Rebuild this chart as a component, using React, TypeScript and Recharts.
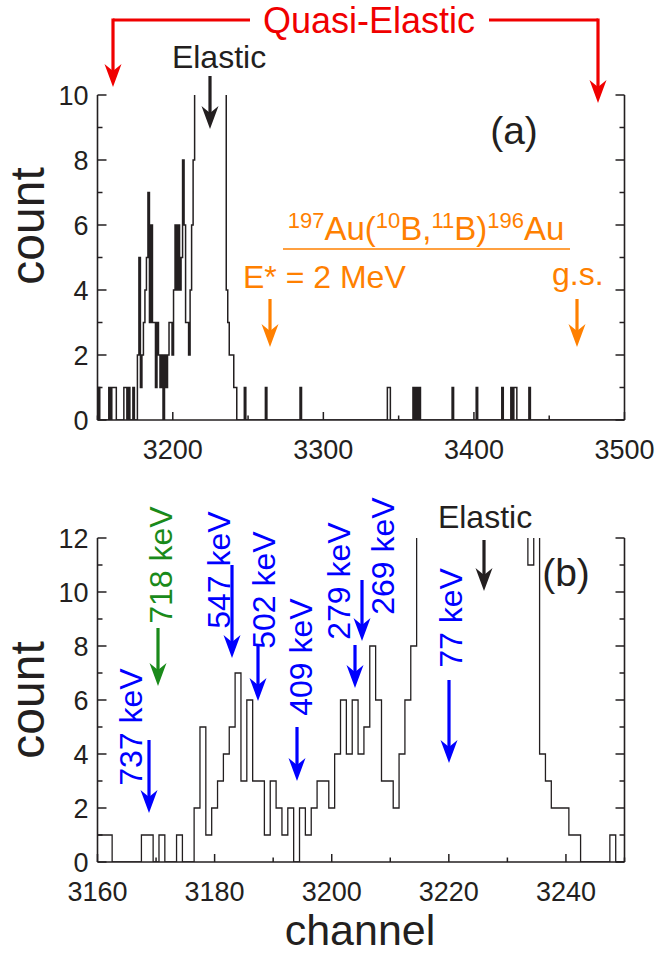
import React from "react";
import { LineChart, Line, XAxis, YAxis } from "recharts";

// spectrum (b), one count per channel starting at 3160
const startB = 3160;
const countsB = [
  1, 1, 1, 0, 0, 0, 0, 0, 1, 1, // 3160-3169
  0, 1, 0, 0, 1, 0, 0, 2, 5, 1, // 3170-3179
  2, 3, 4, 5, 7, 3, 6, 3, 3, 1, // 3180-3189
  3, 2, 1, 2, 0, 2, 1, 2, 3, 3, // 3190-3199
  2, 4, 6, 4, 6, 4, 5, 8, 6, 3, // 3200-3209
  3, 2, 4, 6, 8, 14, 19, 25, 31, 37, // 3210-3219
  42, 46, 49, 51, 52, 51, 49, 45, 40, 34, // 3220-3229
  28, 22, 17, 14, 11, 13, 4, 3, 2, 2, // 3230-3239
  2, 1, 1, 0, 0, 0, 0, 0, 1, 0, // 3240-3249
  0, // 3250
];
// single counts seen in (a) outside the range of (b)
const extraHitsA = [3151, 3158, 3262, 3285, 3343, 3344, 3360, 3362, 3364, 3386, 3402, 3419, 3425, 3427, 3428, 3437];

const rangeA = [3150, 3500];
const rangeB = [3160, 3250];
const xTicksA = [3150, 3200, 3250, 3300, 3350, 3400, 3450, 3500];
const xLabelsA = [3200, 3300, 3400, 3500];
const xTicksB = [3160, 3170, 3180, 3190, 3200, 3210, 3220, 3230, 3240, 3250];
const xLabelsB = [3160, 3180, 3200, 3220, 3240];
const yTicksA = [0, 1, 2, 3, 4, 5, 6, 7, 8, 9, 10];
const yLabelsA = [0, 2, 4, 6, 8, 10];
const yTicksB = [0, 1, 2, 3, 4, 5, 6, 7, 8, 9, 10, 11, 12];
const yLabelsB = [0, 2, 4, 6, 8, 10, 12];

const FONT = "'Liberation Sans', Arial, Helvetica, sans-serif";
const INK = "#231f20";
const BLUE = "#0000ff";
const GREEN = "#1a8a1a";
const ORANGE = "#ff8000";
const RED = "#f00000";

function countAt(ch: number) {
  const i = ch - startB;
  if (i >= 0 && i < countsB.length) return countsB[i];
  return extraHitsA.includes(ch) ? 1 : 0;
}

// histogram bins are centred on the channel
function stepData(lo: number, hi: number) {
  const pts = [];
  for (let ch = lo; ch <= hi; ch++) pts.push({ x: ch - 0.5, y: countAt(ch) });
  pts.push({ x: hi + 0.5, y: countAt(hi) });
  return pts;
}

const dataA = stepData(rangeA[0], rangeA[1]);
const dataB = stepData(rangeB[0], rangeB[1]);

const bottomTick = (labels: number[]) => (p: any) => {
  const major = labels.includes(p.payload.value);
  return (
    <g>
      <line x1={p.x} x2={p.x} y1={p.y} y2={p.y - (major ? 8 : 4.5)} stroke={INK} strokeWidth={1.5} />
      {major && (
        <text x={p.x} y={p.y + 39} textAnchor="middle" fontSize={27} fill={INK} fontFamily={FONT}>
          {p.payload.value}
        </text>
      )}
    </g>
  );
};

const leftTick = (labels: number[]) => (p: any) => {
  const major = labels.includes(p.payload.value);
  return (
    <g>
      <line x1={p.x} x2={p.x + (major ? 9 : 5)} y1={p.y} y2={p.y} stroke={INK} strokeWidth={1.5} />
      {major && (
        <text x={p.x - 9} y={p.y} dy="0.36em" textAnchor="end" fontSize={27} fill={INK} fontFamily={FONT}>
          {p.payload.value}
        </text>
      )}
    </g>
  );
};

const rightTick = (labels: number[]) => (p: any) => {
  const major = labels.includes(p.payload.value);
  return <line x1={p.x} x2={p.x - (major ? 9 : 5)} y1={p.y} y2={p.y} stroke={INK} strokeWidth={1.5} />;
};

function Panel(props: {
  data: { x: number; y: number }[];
  range: number[];
  xTicks: number[];
  xLabels: number[];
  yTicks: number[];
  yLabels: number[];
  height: number;
  margin: { top: number; right: number; bottom: number; left: number };
  lineWidth: number;
}) {
  const yMax = props.yTicks[props.yTicks.length - 1];
  const axisLine = { stroke: INK, strokeWidth: 1.6 };
  return (
    <LineChart width={658} height={props.height} data={props.data} margin={props.margin}>
      <XAxis
        dataKey="x"
        type="number"
        domain={props.range}
        allowDataOverflow
        ticks={props.xTicks}
        interval={0}
        tickSize={0}
        tickMargin={0}
        height={40}
        axisLine={axisLine}
        tick={bottomTick(props.xLabels)}
      />
      <YAxis
        yAxisId="left"
        type="number"
        domain={[0, yMax]}
        allowDataOverflow
        ticks={props.yTicks}
        interval={0}
        tickSize={0}
        tickMargin={0}
        width={60}
        axisLine={axisLine}
        tick={leftTick(props.yLabels)}
      />
      <YAxis
        yAxisId="right"
        orientation="right"
        type="number"
        domain={[0, yMax]}
        allowDataOverflow
        ticks={props.yTicks}
        interval={0}
        tickSize={0}
        tickMargin={0}
        width={10}
        axisLine={axisLine}
        tick={rightTick(props.yLabels)}
      />
      <Line
        yAxisId="left"
        type="stepAfter"
        dataKey="y"
        stroke={INK}
        strokeWidth={props.lineWidth}
        dot={false}
        isAnimationActive={false}
      />
    </LineChart>
  );
}

function Arrow({ x, y1, y2, color }: { x: number; y1: number; y2: number; color: string }) {
  const head = 23;
  return (
    <g>
      <line x1={x} x2={x} y1={y1} y2={y2 - head + 7} stroke={color} strokeWidth={3.2} />
      <polygon points={`${x},${y2} ${x - 8.5},${y2 - head} ${x},${y2 - head + 7} ${x + 8.5},${y2 - head}`} fill={color} />
    </g>
  );
}

function VLabel({ x, y, text, color }: { x: number; y: number; text: string; color: string }) {
  return (
    <text
      x={x}
      y={y}
      transform={`rotate(-90 ${x} ${y})`}
      textAnchor="middle"
      dy="0.36em"
      fontSize={32}
      fill={color}
      fontFamily={FONT}
    >
      {text}
    </text>
  );
}

function Annotations() {
  const sup = { fontSize: 22 };
  return (
    <svg width={658} height={959} style={{ position: "absolute", left: 0, top: 0 }}>
      {/* panel (a) */}
      <text x={369} y={33} textAnchor="middle" fontSize={36} fill={RED} fontFamily={FONT}>Quasi-Elastic</text>
      <line x1={113} x2={250} y1={20} y2={20} stroke={RED} strokeWidth={3} />
      <line x1={489} x2={598} y1={20} y2={20} stroke={RED} strokeWidth={3} />
      <Arrow x={113} y1={18.5} y2={87} color={RED} />
      <Arrow x={598} y1={18.5} y2={103} color={RED} />
      <text x={219} y={68} textAnchor="middle" fontSize={32} fill={INK} fontFamily={FONT}>Elastic</text>
      <Arrow x={210} y1={76} y2={129} color={INK} />
      <text x={514} y={144} textAnchor="middle" fontSize={39} fill={INK} fontFamily={FONT}>(a)</text>
      <text x={426} y={240} textAnchor="middle" fontSize={33} fill={ORANGE} fontFamily={FONT}>
        <tspan {...sup} dy={-12}>197</tspan>
        <tspan dy={12}>Au(</tspan>
        <tspan {...sup} dy={-12}>10</tspan>
        <tspan dy={12}>B,</tspan>
        <tspan {...sup} dy={-12}>11</tspan>
        <tspan dy={12}>B)</tspan>
        <tspan {...sup} dy={-12}>196</tspan>
        <tspan dy={12}>Au</tspan>
      </text>
      <line x1={283} x2={570} y1={249} y2={249} stroke={ORANGE} strokeWidth={1.5} />
      <text x={243} y={288} fontSize={32} fill={ORANGE} fontFamily={FONT}>E* = 2 MeV</text>
      <text x={552} y={285} fontSize={32} fill={ORANGE} fontFamily={FONT}>g.s.</text>
      <Arrow x={270} y1={299} y2={347} color={ORANGE} />
      <Arrow x={577} y1={299} y2={347} color={ORANGE} />
      <text x={30} y={226} transform="rotate(-90 30 226)" textAnchor="middle" dy="0.3em" fontSize={48} fill={INK} fontFamily={FONT}>count</text>

      {/* panel (b) */}
      <text x={485} y={528} textAnchor="middle" fontSize={32} fill={INK} fontFamily={FONT}>Elastic</text>
      <Arrow x={484} y1={540} y2={591} color={INK} />
      <text x={566} y={586} textAnchor="middle" fontSize={39} fill={INK} fontFamily={FONT}>(b)</text>
      <VLabel x={130} y={727} text="737 keV" color={BLUE} />
      <Arrow x={149} y1={740} y2={813} color={BLUE} />
      <VLabel x={160} y={565} text="718 keV" color={GREEN} />
      <Arrow x={158} y1={628} y2={686} color={GREEN} />
      <VLabel x={218} y={570} text="547 keV" color={BLUE} />
      <Arrow x={232} y1={565} y2={658} color={BLUE} />
      <VLabel x={263} y={590} text="502 keV" color={BLUE} />
      <Arrow x={258} y1={645} y2={701} color={BLUE} />
      <VLabel x={300} y={657} text="409 keV" color={BLUE} />
      <Arrow x={297} y1={727} y2={781} color={BLUE} />
      <VLabel x={338} y={581} text="279 keV" color={BLUE} />
      <Arrow x={355} y1={645} y2={688} color={BLUE} />
      <VLabel x={382} y={556} text="269 keV" color={BLUE} />
      <Arrow x={362} y1={580} y2={641} color={BLUE} />
      <VLabel x={450} y={618} text="77 keV" color={BLUE} />
      <Arrow x={449} y1={680} y2={763} color={BLUE} />
      <text x={30} y={700} transform="rotate(-90 30 700)" textAnchor="middle" dy="0.3em" fontSize={48} fill={INK} fontFamily={FONT}>count</text>
      <text x={360} y={945} textAnchor="middle" fontSize={43} fill={INK} fontFamily={FONT}>channel</text>
    </svg>
  );
}

export default function App() {
  return (
    <div style={{ position: "absolute", left: 0, top: 0, width: 658, height: 959, background: "#fff", fontFamily: FONT }}>
      <div style={{ position: "absolute", left: 0, top: 0 }}>
        <Panel
          data={dataA}
          range={rangeA}
          xTicks={xTicksA}
          xLabels={xLabelsA}
          yTicks={yTicksA}
          yLabels={yLabelsA}
          height={470}
          margin={{ top: 95, right: 23.5, bottom: 10, left: 37.5 }}
          lineWidth={1.5}
        />
      </div>
      <div style={{ position: "absolute", left: 0, top: 470 }}>
        <Panel
          data={dataB}
          range={rangeB}
          xTicks={xTicksB}
          xLabels={xLabelsB}
          yTicks={yTicksB}
          yLabels={yLabelsB}
          height={489}
          margin={{ top: 68, right: 23.5, bottom: 57, left: 37.5 }}
          lineWidth={1.3}
        />
      </div>
      <Annotations />
    </div>
  );
}
